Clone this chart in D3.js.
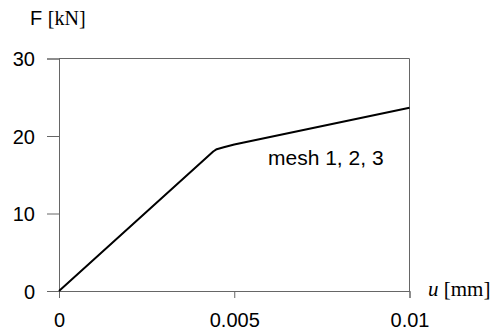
<!DOCTYPE html>
<html>
<head>
<meta charset="utf-8">
<script src="https://cdn.jsdelivr.net/npm/d3@7"></script>
<style>
  body { margin: 0; background: #fff; }
  .tick text { font-family: "Liberation Sans", Arial, sans-serif; font-size: 20px; fill: #000; }
  .serif { font-family: "Liberation Serif", "Times New Roman", serif; }
</style>
</head>
<body>
<svg id="chart" width="493" height="330"></svg>
<script>
// displacement u [mm] and force F [kN]
var uValues = [0, 0.0044, 0.0045, 0.0047, 0.005, 0.01];
var fValues = [0, 18.0, 18.3, 18.55, 18.9, 23.65];
var xTicks = [0, 0.005, 0.01];
var xTickLabels = ['0', '0.005', '0.01'];
var yTicks = [0, 10, 20, 30];
var curveLabel = 'mesh 1, 2, 3';

var svg = d3.select('#chart');
var axisColor = '#666';

var x = d3.scaleLinear().domain([0, 0.01]).range([59, 409.5]);
var y = d3.scaleLinear().domain([0, 30]).range([291, 58.5]);

// left axis
var yAxis = svg.append('g')
	.attr('transform', 'translate(' + x(0) + ',0)')
	.call(d3.axisLeft(y).tickValues(yTicks).tickSize(12).tickPadding(12).tickFormat(d3.format('d')));
yAxis.selectAll('line').attr('stroke', axisColor);
yAxis.select('.domain').attr('stroke', axisColor);
yAxis.selectAll('text').attr('dy', '0.36em');

// bottom axis
var xAxis = svg.append('g')
	.attr('transform', 'translate(0,' + y(0) + ')')
	.call(d3.axisBottom(x).tickValues(xTicks).tickSize(7).tickPadding(15)
		.tickFormat(function(d, i){ return xTickLabels[i]; }));
xAxis.selectAll('line').attr('stroke', axisColor);
xAxis.select('.domain').attr('stroke', axisColor);
xAxis.selectAll('text').attr('dy', '0.71em');

// top and right frame lines
svg.append('line')
	.attr('x1', x(0)).attr('x2', x(0.01))
	.attr('y1', y(30)).attr('y2', y(30))
	.attr('stroke', axisColor);
svg.append('line')
	.attr('x1', x(0.01)).attr('x2', x(0.01))
	.attr('y1', y(30)).attr('y2', y(0))
	.attr('stroke', axisColor);

// curve
var points = uValues.map(function(u, i){ return [u, fValues[i]]; });
var line = d3.line()
	.x(function(d){ return x(d[0]); })
	.y(function(d){ return y(d[1]); });
svg.append('path')
	.datum(points)
	.attr('d', line)
	.attr('fill', 'none')
	.attr('stroke', '#000')
	.attr('stroke-width', 2)
	.attr('stroke-linejoin', 'round');

svg.append('text')
	.attr('x', 268).attr('y', 165)
	.attr('font-family', '"Liberation Sans", Arial, sans-serif')
	.attr('font-size', 21)
	.text(curveLabel);

// axis titles
var fTitle = svg.append('text').attr('x', 30).attr('y', 25).attr('font-size', 20);
fTitle.append('tspan').attr('font-family', '"Liberation Sans", Arial, sans-serif').text('F ');
fTitle.append('tspan').attr('class', 'serif').text('[kN]');

var uTitle = svg.append('text').attr('x', 428).attr('y', 296).attr('font-size', 21);
uTitle.append('tspan').attr('class', 'serif').attr('font-style', 'italic').text('u');
uTitle.append('tspan').attr('class', 'serif').text(' [mm]');
</script>
</body>
</html>
